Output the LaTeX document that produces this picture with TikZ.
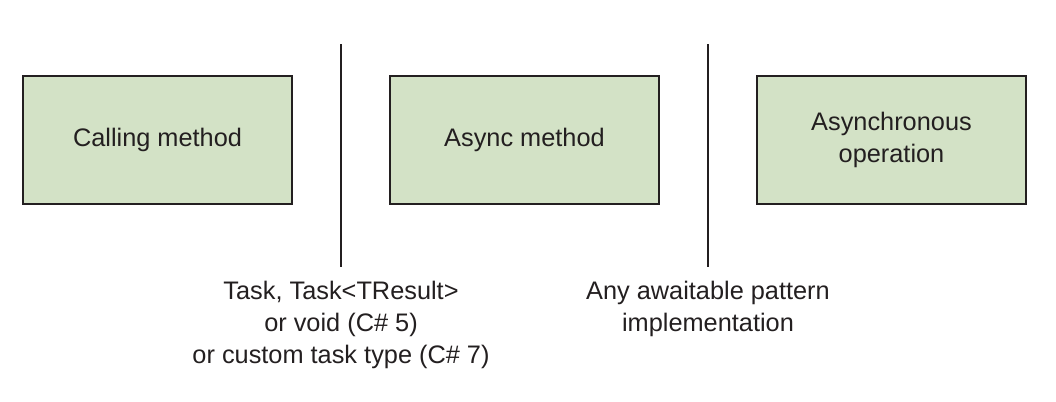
\documentclass[tikz,border=0pt]{standalone}
\usepackage{fontspec}
\setmainfont{Liberation Sans}
\definecolor{boxfill}{HTML}{D3E2C6}
\definecolor{ink}{HTML}{231F20}
\begin{document}
\begin{tikzpicture}[x=0.75pt,y=-0.75pt,
  box/.style={draw=ink,line width=1.9pt,fill=boxfill,minimum width=269*0.75pt,minimum height=128*0.75pt,inner sep=0pt,align=center,text=ink,font=\fontsize{19pt}{24.5pt}\selectfont},
  lab/.style={align=center,text=ink,font=\fontsize{19pt}{24pt}\selectfont,inner sep=0pt},
  sep/.style={draw=ink,line width=1.5pt}]
\useasboundingbox (0,0) rectangle (1056,401);
\node[box] (call) at (157.5,140) {Calling method};
\node[box] (async) at (524.5,140) {Async method};
\node[box] (op) at (891.5,140) {Asynchronous\\operation};
\coordinate (s1t) at (341,44);
\coordinate (s1b) at (341,267);
\coordinate (s2t) at (708,44);
\coordinate (s2b) at (708,267);
\draw[sep] (s1t) -- (s1b);
\draw[sep] (s2t) -- (s2b);
\node[lab] (l1) at (341,325) {Task, Task<TResult>\\or void (C\# 5)\\or custom task type (C\# 7)};
\node[lab] (l2) at (708,309) {Any awaitable pattern\\implementation};
\end{tikzpicture}
\end{document}
